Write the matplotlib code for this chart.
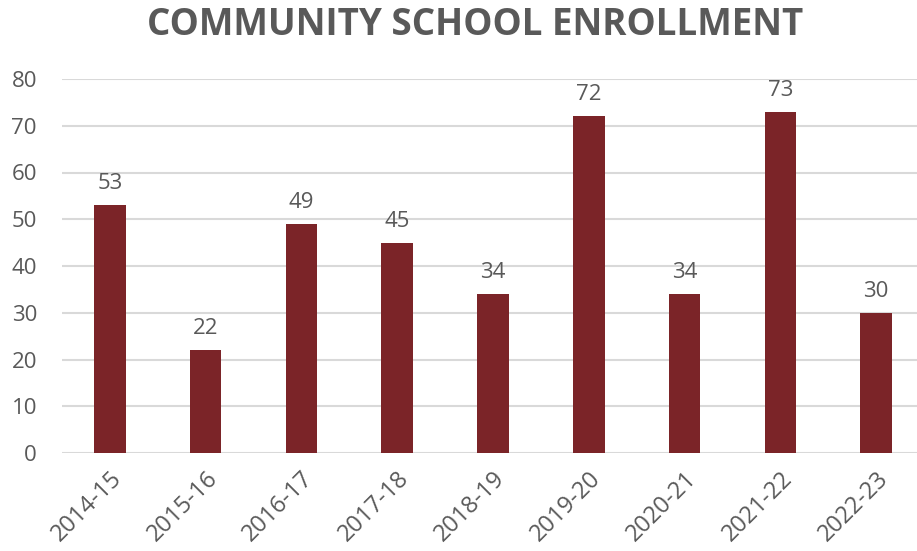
import matplotlib
matplotlib.use("Agg")
import matplotlib.pyplot as plt

years = ["2014-15", "2015-16", "2016-17", "2017-18", "2018-19",
         "2019-20", "2020-21", "2021-22", "2022-23"]
enrollment = [53, 22, 49, 45, 34, 72, 34, 73, 30]

BAR_COLOR = "#7B2428"
TEXT_COLOR = "#595959"
GRID_COLOR = "#D9D9D9"

plt.rcParams["font.family"] = ["Open Sans", "DejaVu Sans"]

fig = plt.figure(figsize=(9.17, 5.51), dpi=100)
ax = fig.add_axes([62 / 917, 98 / 551, 862 / 917, 374 / 551])

x = range(len(years))
bars = ax.bar(x, enrollment, width=0.33, color=BAR_COLOR, zorder=3)

for xi, v in zip(x, enrollment):
    ax.annotate(str(v), (xi, v), xytext=(0, 8), textcoords="offset points",
                ha="center", va="bottom", fontsize=16, color=TEXT_COLOR)

ax.set_xlim(-0.5, len(years) - 0.5)
ax.set_ylim(0, 80)
ax.set_yticks(range(0, 81, 10))
ax.set_xticks(list(x))
ax.set_xticklabels(years, rotation=45, ha="right", rotation_mode="anchor")
ax.tick_params(axis="both", length=0, labelsize=16, labelcolor=TEXT_COLOR)
ax.tick_params(axis="x", labelsize=17, pad=10)
ax.tick_params(axis="y", pad=18)
ax.grid(axis="y", color=GRID_COLOR, linewidth=1.5, zorder=0)
for s in ax.spines.values():
    s.set_visible(False)

fig.text(475 / 917, 1 - 25 / 551, "COMMUNITY SCHOOL ENROLLMENT", ha="center",
         va="center", fontsize=26.5, fontweight="bold", color=TEXT_COLOR)

fig.savefig("out.png", dpi=100)
